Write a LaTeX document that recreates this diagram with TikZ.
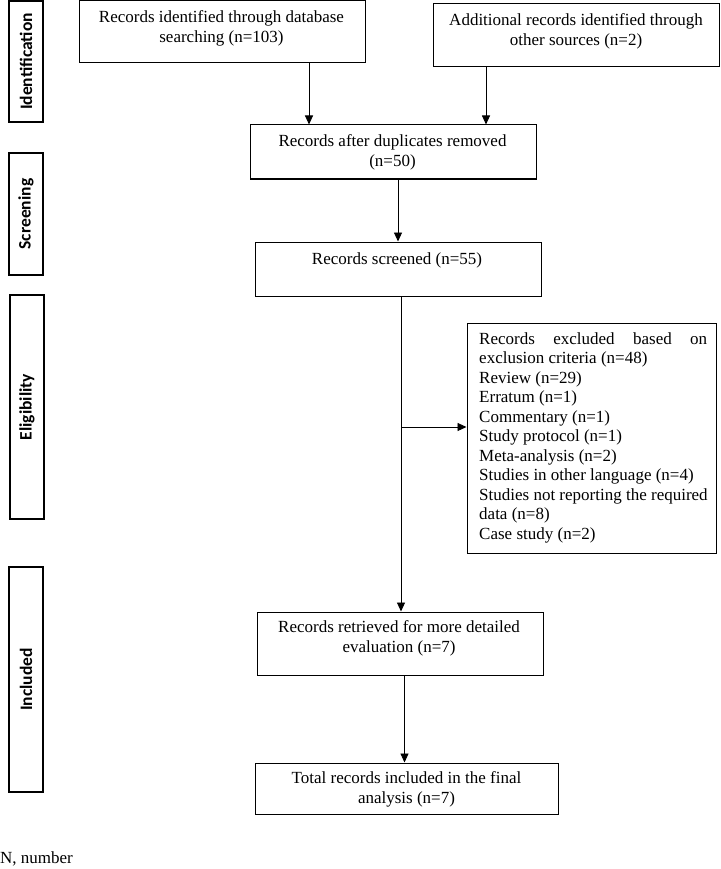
\documentclass[tikz,border=0pt]{standalone}
\usepackage{fontspec}
\setmainfont{Liberation Serif}
\newfontfamily\sidefont{Carlito}
\usetikzlibrary{arrows.meta}
\tikzset{
  box/.style={draw, line width=1pt, rectangle, inner sep=0pt},
  txt/.style={font=\fontsize{17}{20}\selectfont, align=center, inner sep=0pt},
  side/.style={draw, line width=1.2pt, rectangle, inner sep=0pt, minimum width=34pt},
  sidetxt/.style={font=\sidefont\bfseries\fontsize{17.5}{20}\selectfont, rotate=90, inner sep=0pt},
  arr/.style={line width=0.9pt, -{Triangle[length=9pt,width=8pt]}},
  ln/.style={line width=0.9pt}
}
\begin{document}
\begin{tikzpicture}[x=1pt,y=-1pt]
\useasboundingbox (0,0) rectangle (720,869);
% side labels
\node[side, minimum height=121pt] (sid) at (26,61.5) {};
\node[sidetxt] (sidt) at (sid.center) {Identification};
\node[side, minimum height=122pt] (sscr) at (26,214) {};
\node[sidetxt] (sscrt) at (sscr.center) {Screening};
\node[side, minimum height=224pt] (selg) at (27,407) {};
\node[sidetxt] (selgt) at (selg.center) {Eligibility};
\node[side, minimum height=225pt] (sinc) at (26,679.5) {};
\node[sidetxt] (sinct) at (sinc.center) {Included};
% boxes
\node[box, minimum width=286pt, minimum height=62pt] (b1) at (222,32) {};
\node[txt] (b1t) at (221.5,28.5) {Records identified through database\\searching (n=103)};
\node[box, minimum width=286pt, minimum height=63pt] (b2) at (576,35.5) {};
\node[txt] (b2t) at (576,31.5) {Additional records identified through\\other sources (n=2)};
\node[box, minimum width=286pt, minimum height=54pt] (b3) at (393,152) {};
\node[txt] (b3t) at (392.5,152.5) {Records after duplicates removed\\(n=50)};
\node[box, minimum width=286pt, minimum height=54pt] (b4) at (398,269) {};
\node[txt] (b4t) at (397,260) {Records screened (n=55)};
\node[box, minimum width=249pt, minimum height=230pt] (ex) at (591.5,438) {};
\node[font=\fontsize{17}{19.5}\selectfont, align=left, inner sep=0pt, anchor=west] (ext) at (479,437.5) {\makebox[228pt][s]{Records excluded based on}\\
exclusion criteria (n=48)\\
Review (n=29)\\
Erratum (n=1)\\
Commentary (n=1)\\
Study protocol (n=1)\\
Meta-analysis (n=2)\\
Studies in other language (n=4)\\
Studies not reporting the required\\
data (n=8)\\
Case study (n=2)};
\node[box, minimum width=286pt, minimum height=63pt] (b5) at (400,643.5) {};
\node[txt] (b5t) at (399,638) {Records retrieved for more detailed\\evaluation (n=7)};
\node[box, minimum width=303pt, minimum height=51pt] (b6) at (406.5,788.5) {};
\node[txt] (b6t) at (406.5,789.5) {Total records included in the final\\analysis (n=7)};
\node[font=\fontsize{17}{20}\selectfont, anchor=west, inner sep=0pt] (note) at (0,859) {N, number};
% connectors
\coordinate (x1) at (309,0);
\coordinate (x2) at (486,0);
\coordinate (x3) at (398,0);
\coordinate (x4) at (401,0);
\coordinate (x5) at (404.5,0);
\coordinate (br) at (401,427);
\draw[arr] (b1.south -| x1) -- (b3.north -| x1);
\draw[arr] (b2.south -| x2) -- (b3.north -| x2);
\draw[arr] (b3.south -| x3) -- (b4.north -| x3);
\draw[arr] (b4.south -| x4) -- (b5.north -| x4);
\draw[arr] (br) -- (br -| ex.west);
\draw[arr] (b5.south -| x5) -- (b6.north -| x5);
\end{tikzpicture}
\end{document}
